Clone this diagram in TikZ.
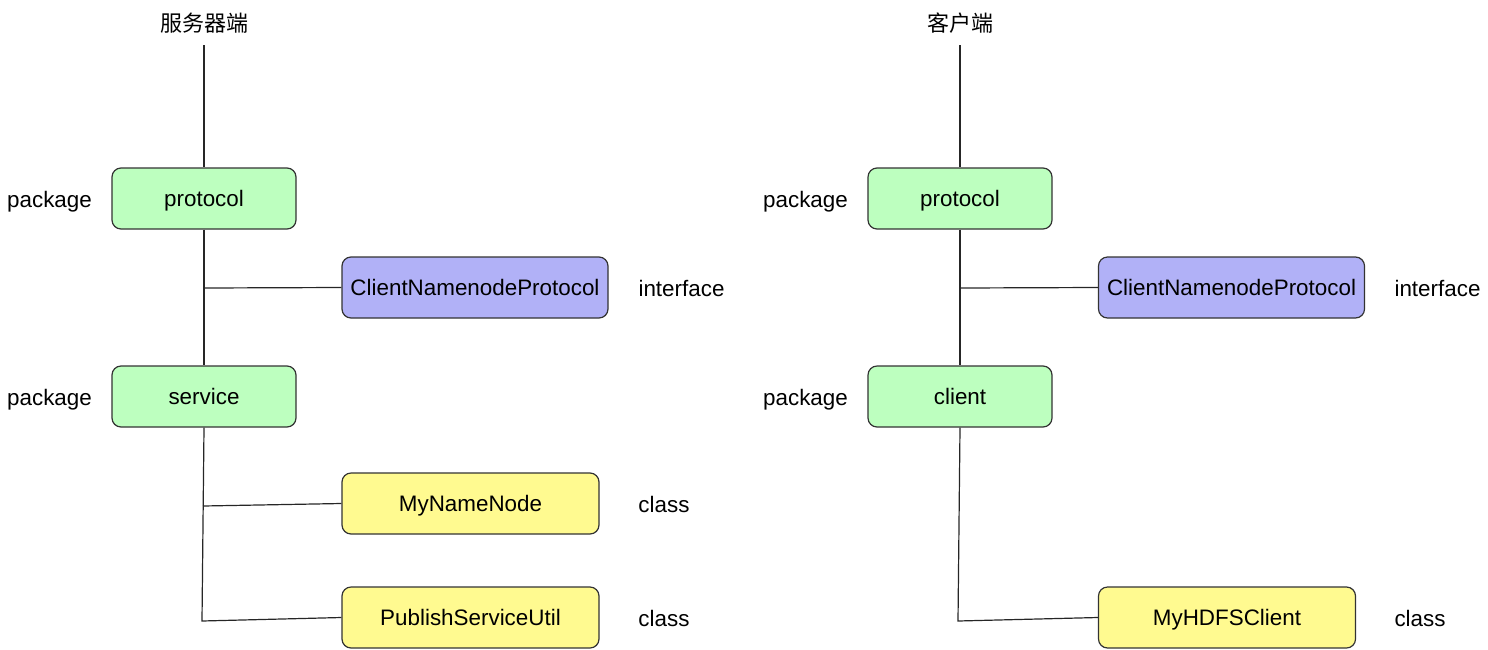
\documentclass[tikz,border=0pt]{standalone}
\usepackage{fontspec}
\setmainfont{Liberation Sans}
\newfontfamily\cjk{Noto Sans CJK SC}
\begin{document}
\begin{tikzpicture}[x=0.5pt,y=-0.5pt,
  box/.style={draw=black!80, line width=0.6pt, rounded corners=4.5pt, minimum height=30.5pt, inner sep=0pt, text height=10pt, text depth=2pt, font=\fontsize{11.2}{13}\selectfont},
  pkg/.style={box, fill=pkggreen, minimum width=92pt},
  iface/.style={box, fill=ifaceblue, minimum width=133pt},
  cls/.style={box, fill=clsyellow, minimum width=128.5pt},
  lbl/.style={inner sep=0pt, text height=10pt, text depth=2pt, font=\fontsize{11.2}{13}\selectfont},
  ttl/.style={inner sep=0pt, font=\cjk\fontsize{11}{13}\selectfont},
  conn/.style={draw=black!85, line width=0.6pt}]
\definecolor{pkggreen}{HTML}{BDFFBF}
\definecolor{ifaceblue}{HTML}{B1B1F7}
\definecolor{clsyellow}{HTML}{FFFA90}
\useasboundingbox (0,0) rectangle (1488,649);
% server side
\node[ttl] (st) at (204,23) {服务器端};
\coordinate (stop) at (204,45);
\node[pkg] (sp) at (204,198.5) {protocol};
\node[iface] (scnp) at (475,287.5) {ClientNamenodeProtocol};
\node[pkg] (ss) at (204,396.5) {service};
\node[cls] (smn) at (470.5,503.5) {MyNameNode};
\node[cls] (spsu) at (470.5,617.5) {PublishServiceUtil};
\node[lbl] (sl1) at (49.5,199) {package};
\node[lbl] (sl2) at (49.5,397) {package};
\node[lbl] (sl3) at (681.5,288) {interface};
\node[lbl] (sl4) at (664,504) {class};
\node[lbl] (sl5) at (664,618) {class};
\coordinate (sj1) at (204,288);
\coordinate (sj2) at (203,506);
\coordinate (sj3) at (202,621);
\draw[conn] (stop) -- (sp.north);
\draw[conn] (sp.south) -- (ss.north);
\draw[conn] (sj1) -- (scnp.west);
\draw[conn] (ss.south) -- (sj3) -- (spsu.west);
\draw[conn] (sj2) -- (smn.west);
% client side
\node[ttl] (ct) at (960,23) {客户端};
\coordinate (ctop) at (960,45);
\node[pkg] (cp) at (960,198.5) {protocol};
\node[iface] (ccnp) at (1231.5,287.5) {ClientNamenodeProtocol};
\node[pkg] (cc) at (960,396.5) {client};
\node[cls] (chc) at (1227,617.5) {MyHDFSClient};
\node[lbl] (cl1) at (805.5,199) {package};
\node[lbl] (cl2) at (805.5,397) {package};
\node[lbl] (cl3) at (1437.5,288) {interface};
\node[lbl] (cl4) at (1420,618) {class};
\coordinate (cj1) at (960,288);
\coordinate (cj3) at (958,621);
\draw[conn] (ctop) -- (cp.north);
\draw[conn] (cp.south) -- (cc.north);
\draw[conn] (cj1) -- (ccnp.west);
\draw[conn] (cc.south) -- (cj3) -- (chc.west);
\end{tikzpicture}
\end{document}
